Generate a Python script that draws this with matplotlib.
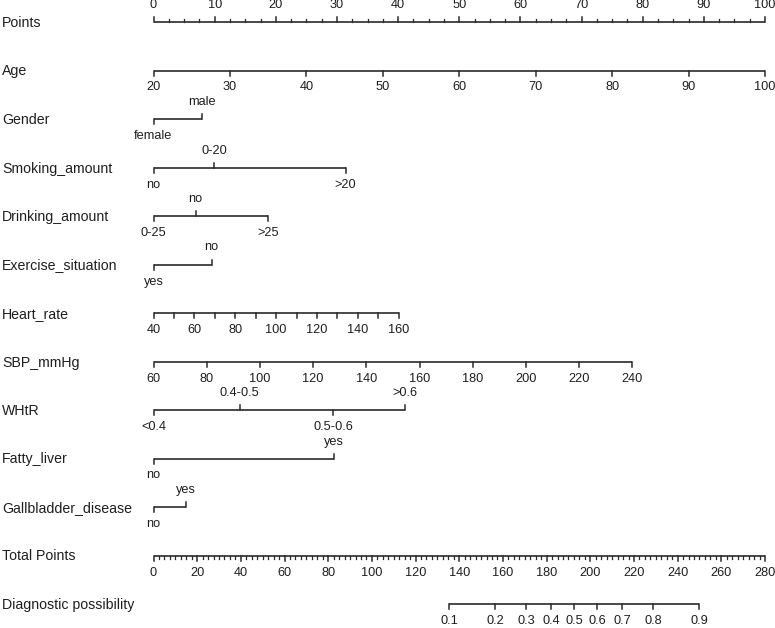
import numpy as np
import matplotlib
matplotlib.use("Agg")
import matplotlib.pyplot as plt

plt.rcParams['font.family'] = ['Liberation Sans', 'DejaVu Sans']

# ---- data ----
row_labels = ["Points", "Age", "Gender", "Smoking_amount", "Drinking_amount",
              "Exercise_situation", "Heart_rate", "SBP_mmHg", "WHtR", "Fatty_liver",
              "Gallbladder_disease", "Total Points", "Diagnostic possibility"]

points_ticks = list(range(0, 101, 10))

age_range = (20, 100)
age_points_range = (0, 100)
age_ticks = [20, 30, 40, 50, 60, 70, 80, 90, 100]

gender_levels = ["female", "male"]
gender_points = [0, 8.0]

smoking_levels = ["no", "0-20", ">20"]
smoking_points = [0, 9.9, 31.4]

drinking_levels = ["0-25", "no", ">25"]
drinking_points = [0, 6.9, 18.7]

exercise_levels = ["yes", "no"]
exercise_points = [0, 9.5]

hr_range = (40, 160)
hr_points_range = (0, 40.1)
hr_ticks = list(range(40, 161, 10))
hr_labels = list(range(40, 161, 20))

sbp_range = (60, 240)
sbp_points_range = (0, 78.3)
sbp_ticks = list(range(60, 241, 20))

whtr_levels = ["<0.4", "0.4-0.5", "0.5-0.6", ">0.6"]
whtr_points = [0, 14.1, 29.4, 41.1]

fatty_levels = ["no", "yes"]
fatty_points = [0, 29.5]

gall_levels = ["no", "yes"]
gall_points = [0, 5.3]

total_max = 280
total_ticks = list(range(0, 281, 20))

prob_ticks = [0.1, 0.2, 0.3, 0.4, 0.5, 0.6, 0.7, 0.8, 0.9]
prob_center = 192.6   # total points at p = 0.5
prob_slope = 0.0384   # logit per total point

# ---- layout (pixels) ----
W, H = 775, 628
x0_px, x100_px = 153.5, 765.0
row_y = [22 + i * 48.5 for i in range(len(row_labels))]
line_color = "#2a2a2a"
text_color = "#1e1e1e"

fig = plt.figure(figsize=(W / 100, H / 100), dpi=100)
ax = fig.add_axes([0, 0, 1, 1])
ppp = (x100_px - x0_px) / 100.0
ax.set_xlim(-x0_px / ppp, (W - x0_px) / ppp)
ax.set_ylim(H, 0)
ax.axis("off")

tick_len = 5
minor_len = 3
lab_off = 17


def lin(v, vr, pr):
    return pr[0] + (np.asarray(v, float) - vr[0]) * (pr[1] - pr[0]) / (vr[1] - vr[0])


def draw_scale(y, xs, labels, sides, minor=None, fs=9.2):
    ax.plot([min(xs), max(xs)], [y, y], color=line_color, lw=1.2, solid_capstyle="butt")
    for x, lab, s in zip(xs, labels, sides):
        d = -1 if s == "up" else 1
        ax.plot([x, x], [y, y + d * tick_len], color=line_color, lw=1.1)
        if lab is not None:
            ax.text(x, y + d * lab_off, lab, ha="center", va="center",
                    fontsize=fs, color=text_color)
    if minor is not None:
        d = -1 if sides[0] == "up" else 1
        for x in minor:
            ax.plot([x, x], [y, y + d * minor_len], color=line_color, lw=0.9)


def draw_cat(y, pts, levels):
    order = np.argsort(pts)
    sides = [None] * len(pts)
    for k, i in enumerate(order):
        sides[i] = "down" if k % 2 == 0 else "up"
    draw_scale(y, pts, levels, sides)


for lab, y in zip(row_labels, row_y):
    ax.text(2 / ppp - x0_px / ppp, y + 1, lab, ha="left", va="center",
            fontsize=10.2, color=text_color)

# Points
minor_pts = [v for v in np.arange(0, 100.01, 2.5) if v % 10 != 0]
draw_scale(row_y[0], points_ticks, [str(t) for t in points_ticks],
           ["up"] * len(points_ticks), minor=minor_pts)

# Age
draw_scale(row_y[1], lin(age_ticks, age_range, age_points_range),
           [str(t) for t in age_ticks], ["down"] * len(age_ticks))

draw_cat(row_y[2], gender_points, gender_levels)
draw_cat(row_y[3], smoking_points, smoking_levels)
draw_cat(row_y[4], drinking_points, drinking_levels)
draw_cat(row_y[5], exercise_points, exercise_levels)

# Heart rate
draw_scale(row_y[6], lin(hr_ticks, hr_range, hr_points_range),
           [str(t) if t in hr_labels else None for t in hr_ticks],
           ["down"] * len(hr_ticks))

# SBP
draw_scale(row_y[7], lin(sbp_ticks, sbp_range, sbp_points_range),
           [str(t) for t in sbp_ticks], ["down"] * len(sbp_ticks))

draw_cat(row_y[8], whtr_points, whtr_levels)
draw_cat(row_y[9], fatty_points, fatty_levels)
draw_cat(row_y[10], gall_points, gall_levels)

# Total points
tp_scale = 100.0 / total_max
minor_tot = [v * tp_scale for v in np.arange(0, total_max + 0.01, 2.5) if v % 20 != 0]
draw_scale(row_y[11], [t * tp_scale for t in total_ticks], [str(t) for t in total_ticks],
           ["down"] * len(total_ticks), minor=minor_tot)

# Diagnostic possibility
p = np.array(prob_ticks)
tot = prob_center + np.log(p / (1 - p)) / prob_slope
draw_scale(row_y[12], tot * tp_scale, [f"{v:g}" for v in prob_ticks],
           ["down"] * len(prob_ticks))

fig.savefig("out.png", dpi=100)
